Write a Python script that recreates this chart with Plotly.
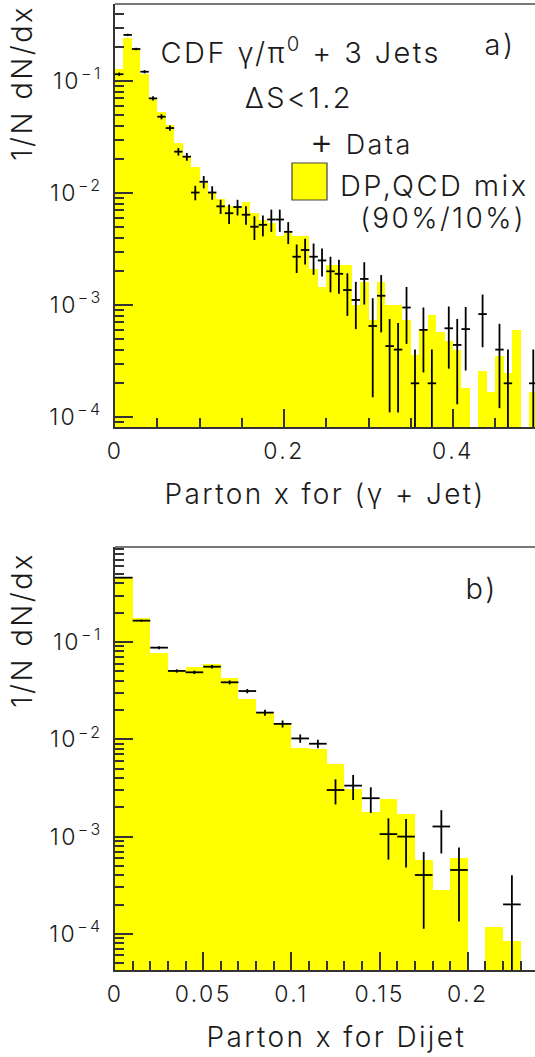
import numpy as np
import plotly.graph_objects as go

# ---------------- data ----------------
# Panel a) : Parton x for (gamma + Jet), 50 bins of 0.01 from 0 to 0.5
a_bin_width = 0.01
a_nbins = 50
a_mc = [0.127, 0.244, 0.196, 0.115, 0.070, 0.053, 0.0405, 0.028, 0.0214, 0.0172,
        0.0123, 0.0103, 0.0088, 0.0077, 0.0074, 0.0084, 0.0067, 0.0058, 0.0054, 0.0041,
        0.0044, 0.0041, 0.0041, 0.0021, 0.00146, 0.00228, 0.00228, 0.00228, 0.0010, 0.00162,
        0.00074, 0.00162, 0.0010, 0.0010, 0.00074, 0.00036, 0.0006, 0.00081, 0.00057, 0.00048,
        0.0004, 0.00018, None, 0.00026, 0.000166, 0.00035, 0.000245, 0.0006, None, 0.000166]
a_data = [0.115, 0.258, 0.193, 0.121, 0.070, 0.048, 0.038, 0.0234, 0.0211, 0.0101,
          0.0126, 0.0101, 0.0076, 0.0066, 0.0075, 0.0064, 0.0050, 0.0052, 0.0058, 0.0058,
          0.0045, 0.0027, 0.0031, 0.0027, 0.0025, 0.0020, 0.0019, 0.00136, 0.00111, 0.00171,
          0.00065, 0.00121, 0.00043, 0.0004, 0.00095, 0.0002, 0.0006, 0.0002, None, 0.00062,
          0.00044, 0.00061, None, 0.00083, None, 0.0004, 0.0002, None, None, 0.0002]
a_err = [0.004, 0.006, 0.005, 0.004, 0.003, 0.0025, 0.002, 0.0018, 0.0017, 0.0015,
         0.0016, 0.0014, 0.0011, 0.0013, 0.0012, 0.0012, 0.0012, 0.0011, 0.0013, 0.0013,
         0.0010, 0.00077, 0.0008, 0.00084, 0.0007, 0.0007, 0.00064, 0.00056, 0.0005, 0.0007,
         0.0005, 0.00064, 0.00032, 0.00029, 0.0005, 0.0002, 0.00035, 0.0002, None, 0.00035,
         0.00031, 0.00035, None, 0.00041, None, 0.00028, 0.0002, None, None, 0.0002]

# Panel b) : Parton x for Dijet, 24 bins of 0.01 from 0 to 0.24
b_bin_width = 0.01
b_nbins = 24
b_mc = [0.458, 0.175, 0.0777, 0.0504, 0.0557, 0.0594, 0.043, 0.0259, 0.0185, 0.0148,
        0.0082, 0.0079, 0.00557, 0.00308, 0.0018, 0.00242, 0.0017, 0.000575, 0.000283, 0.000598,
        None, 0.000117, 0.0000845, None]
b_data = [0.458, 0.1656, 0.0874, 0.0504, 0.0488, 0.0557, 0.0385, 0.0313, 0.0188, 0.0144,
          0.0102, 0.0090, 0.00301, 0.00334, 0.00248, 0.00106, 0.0010, 0.000403, 0.00127, 0.000454,
          None, None, 0.000201, None]
b_err = [0.005, 0.004, 0.003, 0.002, 0.002, 0.0022, 0.0018, 0.0016, 0.0013, 0.0012,
         0.001, 0.0009, 0.00087, 0.00096, 0.00073, 0.00048, 0.00052, 0.00029, 0.0006, 0.00032,
         None, None, 0.0002, None]

y_tick_vals = [1e-4, 1e-3, 1e-2, 1e-1]
y_tick_text = ["10<sup>\u22124</sup>", "10<sup>\u22123</sup>", "10<sup>\u22122</sup>", "10<sup>\u22121</sup>"]
a_x_ticks = [0, 0.2, 0.4]
a_x_labels = ["0", "0.2", "0.4"]
b_x_ticks = [0, 0.05, 0.1, 0.15, 0.2]
b_x_labels = ["0", "0.05", "0.1", "0.15", "0.2"]

a_x = np.arange(a_nbins) * a_bin_width + a_bin_width / 2
b_x = np.arange(b_nbins) * b_bin_width + b_bin_width / 2

# ---------------- layout geometry ----------------
W, H = 535, 1057
ML, MR, MT, MB = 115, 0, 4, 87
PW = W - ML - MR
PH = H - MT - MB


def px(xp):
    return (xp - ML) / PW


def py(yp):
    return (H - MB - yp) / PH


FONT = "Inter"
FW = 300
TXT = "#1a1a1a"
YEL = "#ffff00"
AX = "#333333"

fig = go.Figure()

# panel a
fig.add_trace(go.Bar(x=a_x, y=a_mc, width=a_bin_width, marker=dict(color=YEL, line=dict(width=0)),
                     xaxis="x", yaxis="y", showlegend=False, hoverinfo="skip"))
fig.add_trace(go.Scatter(x=a_x, y=a_data, mode="markers", marker=dict(size=1, color="black"),
                         error_x=dict(type="constant", value=a_bin_width / 2, width=0, thickness=1.8, color="black"),
                         error_y=dict(type="data", array=a_err, width=0, thickness=1.8, color="black"),
                         xaxis="x", yaxis="y", showlegend=False))
# panel b
fig.add_trace(go.Bar(x=b_x, y=b_mc, width=b_bin_width, marker=dict(color=YEL, line=dict(width=0)),
                     xaxis="x2", yaxis="y2", showlegend=False, hoverinfo="skip"))
fig.add_trace(go.Scatter(x=b_x, y=b_data, mode="markers", marker=dict(size=1, color="black"),
                         error_x=dict(type="constant", value=b_bin_width / 2, width=0, thickness=1.8, color="black"),
                         error_y=dict(type="data", array=b_err, width=0, thickness=1.8, color="black"),
                         xaxis="x2", yaxis="y2", showlegend=False))

tickfont = dict(family=FONT, size=23, color=TXT, weight=FW)

common_x = dict(showgrid=False, zeroline=False, showline=True, linecolor=AX, linewidth=1.5,
                ticks="inside", ticklen=18, tickwidth=1.5, tickcolor=AX, tickfont=tickfont,
                ticklabelstandoff=3, tickmode="array")
common_y = dict(type="log", showgrid=False, zeroline=False, showline=True, linecolor=AX, linewidth=1.5,
                ticks="inside", ticklen=18, tickwidth=1.5, tickcolor=AX, tickfont=tickfont,
                tickmode="array", tickvals=y_tick_vals, ticktext=y_tick_text, ticklabelstandoff=6,
                minor=dict(ticks="inside", ticklen=9, tickwidth=1.5, tickcolor=AX, dtick="D1", showgrid=False))

fig.update_layout(
    width=W, height=H,
    margin=dict(l=ML, r=MR, t=MT, b=MB),
    paper_bgcolor="white", plot_bgcolor="white",
    bargap=0, barmode="overlay",
    font=dict(family=FONT, weight=FW, color=TXT),
    xaxis=dict(common_x, domain=[0, 1], range=[0, (535 - 115) / 845], anchor="y",
               tickvals=a_x_ticks, ticktext=a_x_labels,
               minor=dict(ticks="inside", ticklen=9, tickwidth=1.5, tickcolor=AX, dtick=0.05, tick0=0, showgrid=False)),
    yaxis=dict(common_y, domain=[py(427), py(4)], range=[-4.089, -0.3125], anchor="x"),
    xaxis2=dict(common_x, domain=[0, 1], range=[0, (535 - 115) / 1764], anchor="y2",
                tickvals=b_x_ticks, ticktext=b_x_labels,
                minor=dict(ticks="inside", ticklen=9, tickwidth=1.5, tickcolor=AX, dtick=0.01, tick0=0, showgrid=False)),
    yaxis2=dict(common_y, domain=[py(970), py(547)], range=[-4.371, -0.024], anchor="x2"),
)

# frame top lines (gray)
for ytop in (4, 547):
    fig.add_shape(type="line", xref="paper", yref="paper", x0=0, x1=1, y0=py(ytop), y1=py(ytop),
                  line=dict(color="#777", width=2))

# legend box
fig.add_shape(type="rect", xref="paper", yref="paper", x0=px(292), x1=px(327), y0=py(200), y1=py(163),
              fillcolor=YEL, line=dict(color="#444", width=1.2))


def ann(text, x, y, size, angle=0):
    fig.add_annotation(text=text, xref="paper", yref="paper", x=px(x), y=py(y), showarrow=False,
                       xanchor="center", yanchor="middle", textangle=angle,
                       font=dict(family=FONT, size=size, color=TXT, weight=FW))


ann("CDF \u03b3/\u03c0<sup>0</sup> + 3 Jets", 301, 50, 29)
ann("\u0394S<1.2", 299, 97, 29)
ann("<span style='font-size:36px'>+</span> Data", 361, 141, 27)
ann("DP,QCD mix", 434, 185, 29)
ann("(90%/10%)", 443, 218, 28)
ann("a)", 500, 44, 29)
ann("b)", 481, 588, 29)
ann("Parton x for (\u03b3 + Jet)", 325, 494, 28)
ann("Parton x for Dijet", 336, 1037, 28)
ann("1/N dN/dx", 22, 83, 29, angle=-90)
ann("1/N dN/dx", 22, 630, 29, angle=-90)

# the reference typeface is widely spaced; widen letter spacing of all texts
js = ("document.body.style.margin='0';document.body.style.overflow='hidden';"
      "document.querySelectorAll('svg text').forEach(function(t){t.style.letterSpacing='2.4px';});")

fig.write_html("out.html", config={"displayModeBar": False}, post_script=js)
